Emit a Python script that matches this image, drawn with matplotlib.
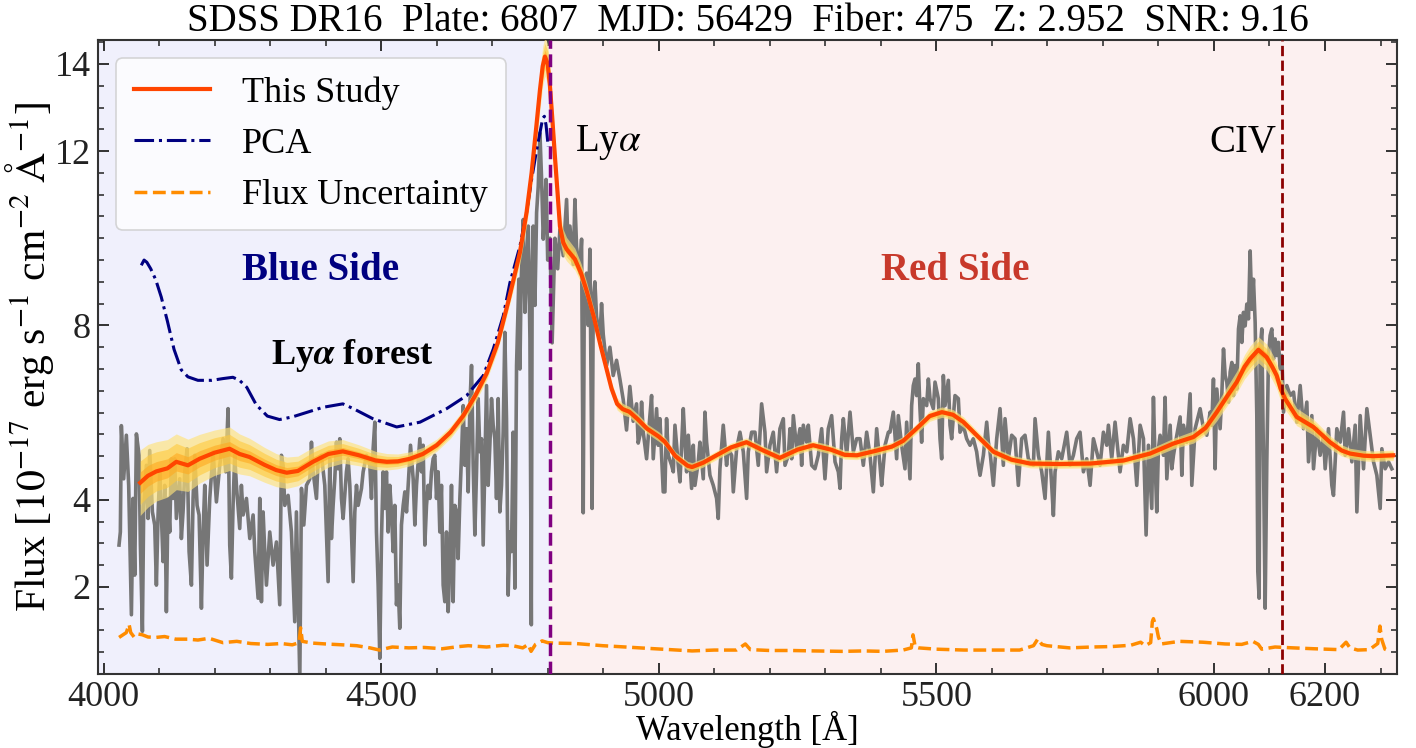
import numpy as np
import matplotlib
matplotlib.use("Agg")
from matplotlib import pyplot as plt
from matplotlib.ticker import MultipleLocator

plt.rcParams['font.family'] = 'serif'
plt.rcParams['font.serif'] = ['Liberation Serif', 'DejaVu Serif']
plt.rcParams['mathtext.fontset'] = 'stix'

TITLE = "SDSS DR16  Plate: 6807  MJD: 56429  Fiber: 475  Z: 2.952  SNR: 9.16"
LYA_LINE = 4804.3
CIV_LINE = 6122.0

# observed spectrum (grey)
spec_wave = [
    4027.9, 4030.3, 4032.1, 4036.3, 4041.1, 4045.3, 4050.2, 4053.2, 4056.2, 4059.2,
    4064.0, 4066.4, 4070.0, 4072.4, 4077.2, 4080.2, 4083.2, 4088.0, 4092.2, 4095.2,
    4098.2, 4101.2, 4104.2, 4107.2, 4110.2, 4113.2, 4116.2, 4119.2, 4122.2, 4125.2,
    4128.2, 4131.2, 4137.2, 4140.2, 4143.2, 4146.3, 4150.5, 4154.1, 4158.3, 4161.3,
    4164.3, 4168.5, 4172.1, 4176.3, 4179.3, 4182.3, 4186.5, 4191.3, 4197.3, 4203.3,
    4209.3, 4215.3, 4220.1, 4224.3, 4227.3, 4230.3, 4233.3, 4236.3, 4239.3, 4245.3,
    4248.3, 4251.4, 4257.4, 4263.4, 4269.4, 4272.4, 4278.4, 4281.4, 4284.4, 4287.4,
    4290.4, 4293.4, 4299.4, 4305.4, 4311.4, 4317.4, 4320.4, 4323.4, 4326.4, 4332.4,
    4338.4, 4344.4, 4347.4, 4353.5, 4356.5, 4360.7, 4365.5, 4371.5, 4374.5, 4377.5,
    4383.5, 4386.5, 4392.5, 4398.5, 4404.5, 4407.5,
    4410.5, 4413.5, 4416.5, 4419.5, 4422.5, 4425.5, 4428.5, 4431.5, 4437.5, 4440.5,
    4443.6, 4446.6, 4449.6, 4452.6, 4455.6, 4458.6, 4464.6, 4467.6, 4473.6, 4479.6,
    4482.6, 4485.6, 4488.6, 4491.6, 4494.6, 4497.6, 4500.6, 4503.6, 4506.6, 4509.6,
    4512.6, 4515.6, 4518.6, 4521.6, 4524.6, 4527.6, 4530.6, 4533.6, 4536.6, 4539.7,
    4542.7, 4545.7, 4548.7, 4552.9, 4557.7, 4560.7, 4563.7, 4566.7, 4569.7, 4572.7,
    4575.7, 4578.7, 4581.7, 4584.7, 4587.7, 4590.7, 4593.7, 4596.7, 4599.7, 4602.7,
    4605.7, 4608.7, 4611.7, 4614.7, 4617.7, 4620.7, 4623.7, 4626.7, 4629.7, 4632.7,
    4635.7, 4638.7, 4641.8, 4644.8, 4647.8, 4650.8, 4653.8, 4656.8, 4659.8, 4662.8,
    4665.8, 4668.8, 4671.8, 4674.8, 4677.8, 4680.8, 4683.8, 4686.8, 4689.8, 4692.8,
    4695.8, 4698.8, 4701.8, 4704.8, 4707.8, 4710.8, 4713.8, 4716.8, 4719.8, 4722.8,
    4725.8, 4728.8, 4731.8, 4734.8, 4737.8, 4740.9, 4743.9,
    4746.9, 4748.0, 4750.0, 4752.0, 4756.0, 4759.0, 4762.0, 4765.0, 4768.0, 4770.5,
    4772.0, 4774.0, 4777.0, 4780.0, 4783.0, 4786.0, 4789.0, 4792.0, 4795.0, 4797.0,
    4800.0, 4804.0, 4808.0, 4813.0, 4818.0, 4822.0, 4828.0, 4834.0, 4837.0, 4840.0,
    4846.0, 4849.0, 4852.0, 4858.0, 4861.0, 4864.0, 4866.0, 4870.0, 4873.0, 4876.0,
    4880.0, 4882.0, 4885.0, 4888.0, 4894.0, 4897.0, 4900.0, 4906.0, 4912.0, 4918.0,
    4924.0, 4930.0, 4936.0, 4942.0, 4948.0, 4954.0, 4960.0, 4963.0,
    4966.1, 4969.1, 4972.1, 4978.1, 4984.1, 4987.1, 4990.1, 4996.1, 4999.1, 5002.1,
    5008.1, 5011.1, 5014.1, 5017.1, 5023.2, 5026.2, 5029.2, 5035.2, 5038.2, 5044.2,
    5047.2, 5050.2, 5053.2, 5059.2, 5062.2, 5065.2, 5071.2, 5074.2, 5080.2, 5083.2,
    5086.2, 5092.2, 5098.2, 5104.2, 5107.2, 5110.2, 5116.2, 5122.2, 5125.3, 5131.3,
    5134.3, 5140.3, 5146.3, 5152.3, 5158.3, 5161.3, 5167.3, 5173.3, 5179.3, 5185.3,
    5191.3, 5194.3, 5200.3, 5206.3, 5212.3, 5218.3, 5224.4, 5227.4, 5233.4, 5236.4,
    5239.4, 5242.4, 5248.4, 5254.4, 5257.4, 5260.4, 5266.4, 5269.4, 5275.4, 5281.4,
    5287.4, 5293.4, 5299.4, 5305.4, 5311.4, 5317.5, 5323.5, 5326.5, 5329.5, 5332.5,
    5338.5, 5344.5, 5350.5, 5356.5, 5362.5, 5368.5, 5374.5, 5380.5, 5386.5, 5392.5,
    5398.5, 5401.5, 5407.6, 5413.6,
    5416.5, 5422.5, 5428.5, 5431.5, 5437.5, 5443.5, 5446.5, 5452.5, 5455.5, 5458.5,
    5461.5, 5464.5, 5467.5, 5470.5, 5473.5, 5476.6, 5482.6, 5485.6, 5488.6, 5494.6,
    5497.6, 5503.6, 5506.6, 5509.6, 5512.6, 5515.6, 5521.6, 5524.6, 5527.6, 5533.6,
    5539.6, 5542.6, 5548.6, 5554.6, 5560.6, 5566.6, 5572.6, 5575.7, 5578.7, 5584.7,
    5590.7, 5593.7, 5596.7, 5602.7, 5608.7, 5614.7, 5620.7, 5623.7, 5629.7, 5635.7,
    5641.7, 5647.7, 5653.7, 5659.7, 5665.7, 5674.8, 5677.8, 5683.8, 5689.8, 5695.8,
    5701.8, 5704.8, 5707.8, 5710.8, 5713.8, 5719.8, 5725.8, 5734.8, 5740.8, 5746.8,
    5752.8, 5758.8, 5764.9, 5770.9, 5776.9, 5782.9, 5788.9, 5794.9, 5800.9, 5806.9,
    5809.9, 5815.9, 5821.9, 5830.9, 5836.9, 5843.0, 5849.0, 5855.0, 5861.0, 5867.0,
    5873.0, 5877.8,
    5882.0, 5888.0, 5891.0, 5894.0, 5897.0, 5900.0, 5903.0, 5909.0, 5912.0, 5915.1,
    5921.1, 5924.1, 5927.1, 5933.1, 5939.1, 5942.1, 5945.1, 5951.1, 5957.1, 5960.1,
    5966.1, 5972.1, 5975.1, 5981.1, 5987.1, 5993.1, 5996.1, 5999.1, 6002.1, 6005.1,
    6011.1, 6014.1, 6017.2, 6020.2, 6023.2, 6026.2, 6029.2, 6032.2, 6035.2, 6038.2,
    6041.2, 6044.2, 6047.2, 6050.2, 6053.2, 6056.2, 6059.2, 6062.2, 6065.2, 6068.2,
    6071.2, 6074.2, 6077.2, 6079.0, 6081.4, 6083.2, 6086.2, 6089.2, 6092.2, 6095.2,
    6098.2, 6101.2, 6104.2, 6107.2, 6110.2, 6113.2, 6116.2, 6119.2, 6122.3, 6125.3,
    6131.3, 6137.3, 6143.3, 6149.3, 6155.3, 6161.3, 6167.3, 6170.3, 6176.3, 6179.3,
    6185.3, 6191.3, 6197.3, 6200.3, 6206.3, 6212.3, 6215.3, 6221.3, 6227.4, 6233.4,
    6236.4, 6242.4, 6248.4, 6254.4, 6257.4, 6263.4, 6269.4, 6275.4, 6281.4, 6287.4,
    6293.4, 6299.4, 6302.4, 6308.4, 6314.4, 6320.4,
]
spec_flux = [
    2.96, 3.26, 5.70, 4.48, 5.48, 4.33, 1.36, 4.03, 2.27, 5.51,
    5.02, 2.96, 0.98, 3.87, 4.79, 3.57, 5.13, 3.72, 3.42, 2.04,
    3.65, 4.64, 3.65, 2.58, 4.33, 1.43, 4.03, 3.26, 4.94, 4.03,
    4.94, 3.57, 4.48, 3.11, 3.72, 4.64, 5.17, 2.81, 2.04, 4.03,
    5.02, 3.87, 3.65, 1.51, 3.26, 4.33, 2.50, 4.03, 5.10, 3.95,
    4.79, 5.40, 4.64, 6.09, 2.96, 2.20, 3.87, 5.02, 4.33, 3.34,
    4.33, 3.65, 4.03, 3.11, 3.65, 2.81, 1.74, 4.03, 1.66, 3.72,
    2.81, 2.04, 3.26, 2.50, 3.03, 1.59, 5.02, 4.79, 3.87, 4.10,
    3.26, 1.20, 3.72, -0.10, 4.26, 3.42, 4.33, 4.48, 5.32, 4.64,
    4.03, 4.94, 5.02, 4.33, 2.12, 4.94,
    3.11, 3.87, 4.48, 5.32, 4.71, 5.40, 4.03, 3.57, 4.64, 4.94,
    4.33, 3.26, 2.12, 3.72, 4.33, 3.87, 4.26, 4.64, 5.02, 4.79,
    4.03, 5.17, 5.78, 3.26, 2.04, 0.36, 3.11, 4.64, 3.80, 4.64,
    3.26, 4.33, 3.72, 2.81, 3.87, 1.59, 2.04, 1.05, 3.42, 3.87,
    4.18, 3.72, 4.33, 5.25, 4.48, 3.42, 4.33, 4.87, 5.40, 4.64,
    5.25, 2.96, 3.87, 4.33, 4.03, 4.64, 4.94, 5.02, 4.03, 4.64,
    3.26, 4.33, 2.04, 1.66, 3.26, 1.43, 2.50, 4.33, 1.66, 3.87,
    3.72, 2.65, 4.03, 5.02, 6.16, 4.79, 5.63, 4.18, 6.16, 7.08,
    4.79, 3.19, 4.64, 6.32, 5.10, 5.40, 2.96, 4.79, 6.62, 4.33,
    5.25, 6.32, 5.71, 5.40, 4.03, 6.32, 3.72, 4.33, 5.55, 7.84,
    5.86, 1.81, 3.26, 2.81, 5.55, 1.97, 7.08,
    8.60, 9.06, 7.00, 8.90, 10.43, 8.30, 9.36, 10.28, 7.69, 1.13,
    9.20, 10.28, 8.46, 10.59, 11.20, 12.42, 11.35, 9.98, 10.74, 11.35,
    9.50, 10.00, 7.60, 10.00, 9.30, 10.20, 9.60, 10.89, 9.67, 10.28,
    9.40, 10.89, 9.80, 9.20, 9.98, 3.70, 9.00, 9.20, 8.00, 9.75,
    3.80, 8.60, 9.00, 8.20, 7.69, 8.50, 7.80, 7.08, 7.50, 6.85,
    7.20, 6.77, 6.30, 5.60, 6.60, 5.80, 6.20, 5.30,
    5.48, 6.24, 5.55, 4.94, 5.93, 6.39, 4.94, 6.09, 5.25, 5.86,
    4.18, 4.18, 5.86, 5.02, 4.79, 4.64, 5.71, 4.79, 4.41, 6.09,
    5.32, 4.64, 5.48, 4.26, 5.25, 4.33, 4.87, 5.32, 4.48, 6.01,
    5.32, 4.56, 4.33, 4.03, 3.57, 4.71, 5.71, 4.79, 5.17, 5.02,
    4.18, 5.17, 5.55, 5.10, 4.03, 5.10, 5.55, 5.55, 4.79, 6.20,
    5.55, 4.64, 5.25, 5.55, 4.64, 5.63, 5.86, 4.79, 5.02, 5.63,
    4.94, 5.93, 5.17, 5.63, 4.79, 5.71, 5.32, 5.71, 4.79, 4.71,
    5.02, 5.63, 4.48, 5.63, 5.93, 4.87, 4.64, 4.26, 5.40, 5.86,
    5.02, 6.01, 5.10, 5.40, 5.40, 4.79, 5.55, 5.02, 4.18, 5.63,
    4.79, 4.33, 5.25, 5.55,
    5.55, 6.01, 4.94, 5.93, 5.25, 4.71, 5.78, 4.48, 6.16, 6.62,
    6.77, 6.39, 7.12, 6.09, 5.32, 6.32, 6.16, 6.77, 6.32, 6.09,
    6.70, 6.32, 5.40, 4.94, 6.85, 6.16, 6.74, 5.71, 5.40, 6.39,
    6.32, 5.55, 5.71, 5.40, 5.25, 5.40, 5.10, 4.79, 4.56, 5.02,
    5.78, 5.32, 5.10, 4.33, 5.40, 6.09, 4.79, 5.86, 4.94, 5.48,
    5.40, 4.33, 5.40, 5.48, 4.94, 4.79, 5.86, 5.02, 4.64, 4.03,
    5.55, 4.94, 4.33, 3.64, 4.64, 5.10, 4.94, 5.55, 4.79, 5.02,
    5.40, 5.55, 4.64, 4.94, 4.33, 5.40, 5.10, 4.79, 5.55, 5.25,
    5.71, 4.94, 5.78, 4.64, 5.25, 5.10, 5.86, 5.40, 4.33, 5.71,
    5.40, 3.19,
    5.25, 3.80, 6.35, 4.87, 3.72, 5.17, 5.48, 5.02, 6.35, 4.48,
    5.71, 4.71, 5.02, 5.48, 5.90, 4.56, 5.71, 5.32, 6.43, 4.33,
    5.63, 5.93, 6.09, 5.63, 5.48, 6.01, 5.71, 6.77, 4.71, 6.54,
    5.63, 6.39, 7.46, 6.85, 6.70, 6.24, 6.93, 7.15, 6.39, 7.08,
    6.54, 7.92, 8.22, 7.61, 8.30, 7.99, 8.49, 8.15, 9.71, 8.37,
    9.06, 8.07, 5.93, 2.35, 1.74, 7.46, 7.92, 4.94, 1.51, 4.87,
    7.31, 7.77, 7.92, 7.23, 7.69, 7.31, 7.61, 7.00, 7.31, 6.01,
    6.62, 6.39, 6.47, 5.78, 6.62, 5.63, 6.24, 4.87, 5.93, 4.71,
    5.63, 5.02, 5.48, 4.71, 5.63, 4.33, 4.10, 5.63, 5.32, 6.01,
    5.02, 5.63, 4.87, 5.71, 3.72, 5.93, 4.71, 6.09, 5.48, 4.87,
    4.56, 3.80, 5.17, 4.71, 4.87, 4.71,
]

# model fit ("This Study") and its uncertainty half-width
fit_wave = [
    4066, 4080, 4095, 4115, 4131, 4152, 4173, 4200, 4227, 4245, 4263, 4290, 4311,
    4330, 4350, 4377, 4405, 4431, 4460, 4490, 4510, 4530, 4552, 4575, 4600, 4625,
    4648, 4670, 4690, 4710, 4730, 4750, 4762, 4771, 4779, 4786, 4791, 4795, 4800,
    4804, 4808, 4813, 4818, 4822, 4828, 4834, 4849, 4860, 4870, 4883, 4895, 4906,
    4915, 4925, 4935, 4947, 4962, 4979, 5000, 5011, 5030, 5052, 5060, 5080, 5104,
    5130, 5158, 5190, 5218, 5250, 5278, 5310, 5335, 5357, 5390, 5420, 5440, 5464,
    5488, 5510, 5530, 5549, 5575, 5603, 5635, 5669, 5720, 5777, 5837, 5885, 5927,
    5963, 5985, 6005, 6025, 6041, 6055, 6065, 6080, 6095, 6105, 6113, 6120, 6128,
    6149, 6179, 6209, 6230, 6245, 6270, 6287, 6323,
]
fit_flux = [
    4.39, 4.55, 4.65, 4.72, 4.87, 4.79, 4.94, 5.08, 5.17, 5.05, 4.98, 4.80, 4.68,
    4.62, 4.66, 4.87, 5.05, 5.11, 5.02, 4.90, 4.87, 4.88, 4.94, 5.05, 5.25, 5.55,
    5.93, 6.40, 6.90, 7.60, 8.60, 9.68, 10.60, 11.50, 12.50, 13.40, 13.95, 14.17, 14.00,
    13.50, 12.80, 11.88, 11.00, 10.28, 9.90, 9.75, 9.52, 9.20, 8.80, 8.20, 7.55, 7.00,
    6.55, 6.20, 6.08, 6.02, 5.85, 5.63, 5.45, 5.33, 5.00, 4.78, 4.75, 4.85, 5.02,
    5.20, 5.32, 5.12, 4.96, 5.15, 5.25, 5.15, 5.03, 5.02, 5.12, 5.22, 5.35, 5.63,
    5.92, 6.01, 5.95, 5.78, 5.45, 5.10, 4.92, 4.83, 4.82, 4.83, 4.90, 5.06, 5.29,
    5.44, 5.65, 6.01, 6.40, 6.70, 7.05, 7.23, 7.44, 7.27, 7.05, 6.85, 6.55, 6.32,
    5.90, 5.67, 5.32, 5.13, 5.06, 5.01, 5.00, 5.02,
]
fit_err = [
    0.75, 0.72, 0.68, 0.66, 0.64, 0.60, 0.56, 0.52, 0.50, 0.46, 0.43, 0.40, 0.38,
    0.36, 0.34, 0.33, 0.30, 0.27, 0.24, 0.21, 0.19, 0.17, 0.16, 0.15, 0.14, 0.14,
    0.14, 0.15, 0.16, 0.17, 0.20, 0.25, 0.30, 0.35, 0.40, 0.45, 0.45, 0.45, 0.45,
    0.45, 0.42, 0.40, 0.36, 0.33, 0.30, 0.27, 0.25, 0.22, 0.20, 0.18, 0.16, 0.15,
    0.14, 0.14, 0.13, 0.12, 0.12, 0.11, 0.11, 0.10, 0.10, 0.10, 0.10, 0.10, 0.10,
    0.10, 0.10, 0.10, 0.10, 0.10, 0.10, 0.10, 0.10, 0.10, 0.10, 0.10, 0.10, 0.11,
    0.12, 0.12, 0.12, 0.12, 0.11, 0.10, 0.10, 0.10, 0.10, 0.10, 0.10, 0.11, 0.12,
    0.14, 0.16, 0.20, 0.22, 0.25, 0.28, 0.30, 0.30, 0.30, 0.30, 0.30, 0.28, 0.25,
    0.20, 0.18, 0.15, 0.13, 0.12, 0.12, 0.12, 0.12,
]

# PCA continuum (blue side only)
pca_wave = [
    4068, 4073, 4078, 4085, 4094, 4104, 4115, 4127, 4140, 4152, 4170, 4195, 4215,
    4233, 4245, 4258, 4275, 4295, 4317, 4340, 4370, 4395, 4431, 4450, 4485, 4528,
    4570, 4618, 4654, 4684, 4702, 4720, 4732, 4750, 4762, 4771, 4779, 4786, 4791,
    4794, 4797, 4801,
]
pca_flux = [
    9.38, 9.50, 9.45, 9.30, 9.05, 8.65, 8.10, 7.45, 6.98, 6.82, 6.74, 6.74, 6.78,
    6.81, 6.74, 6.58, 6.18, 5.92, 5.84, 5.90, 6.02, 6.12, 6.20, 6.09, 5.86, 5.67,
    5.78, 6.09, 6.39, 6.85, 7.46, 8.22, 8.98, 9.82, 10.60, 11.35, 11.95, 12.42, 12.75,
    12.80, 12.60, 12.10,
]

# flux uncertainty
unc_wave = [
    4028, 4035, 4041, 4046, 4049, 4055, 4062, 4070, 4080, 4094, 4110, 4130, 4151,
    4170, 4190, 4215, 4240, 4265, 4296, 4320, 4340, 4352, 4355, 4358, 4376, 4400,
    4430, 4456, 4480, 4497, 4520, 4550, 4577, 4610, 4640, 4657, 4690, 4720, 4737,
    4755, 4765, 4770, 4778, 4790, 4800, 4810, 4850, 4899, 4940, 4979, 5020, 5060,
    5100, 5140, 5156, 5165, 5200, 5238, 5280, 5330, 5370, 5403, 5440, 5455, 5458,
    5462, 5468, 5500, 5550, 5600, 5650, 5675, 5683, 5690, 5699, 5740, 5780, 5815,
    5850, 5868, 5876, 5886, 5889, 5891, 5894, 5897, 5900, 5905, 5938, 5980, 6020,
    6050, 6070, 6080, 6086, 6110, 6143, 6180, 6225, 6238, 6245, 6259, 6280, 6295,
    6299, 6302, 6308, 6312,
]
unc_flux = [
    0.84, 0.90, 0.95, 1.14, 0.95, 0.85, 0.92, 0.90, 0.85, 0.84, 0.86, 0.80, 0.80,
    0.78, 0.82, 0.72, 0.75, 0.70, 0.68, 0.70, 0.67, 0.72, 1.06, 0.75, 0.71, 0.69,
    0.67, 0.65, 0.60, 0.55, 0.62, 0.60, 0.61, 0.58, 0.63, 0.65, 0.62, 0.66, 0.65,
    0.60, 0.68, 0.52, 0.68, 0.76, 0.72, 0.71, 0.70, 0.65, 0.62, 0.59, 0.56, 0.53,
    0.55, 0.55, 0.69, 0.56, 0.54, 0.54, 0.53, 0.52, 0.53, 0.52, 0.55, 0.60, 0.90,
    0.62, 0.60, 0.57, 0.55, 0.55, 0.55, 0.65, 0.81, 0.68, 0.65, 0.60, 0.62, 0.63,
    0.66, 0.73, 0.65, 0.72, 1.20, 1.27, 1.15, 1.04, 0.85, 0.69, 0.75, 0.73, 0.69,
    0.68, 0.75, 0.68, 0.57, 0.62, 0.60, 0.58, 0.56, 0.73, 0.60, 0.55, 0.56, 0.70,
    1.10, 0.80, 0.57, 0.55,
]

fig = plt.figure(figsize=(14.16, 7.48), dpi=100)
ax = fig.add_axes([0.069, 0.0989, 0.9177, 0.8476])

xmin, xmax = 3989.5, 6330
ax.axvspan(xmin, LYA_LINE, color='#F0F0FC', zorder=0)
ax.axvspan(LYA_LINE, xmax, color='#FCF0F0', zorder=0)

ax.plot(spec_wave, spec_flux, color='#767676', lw=2.6, zorder=2)

fw = np.array(fit_wave)
ff = np.array(fit_flux)
fe = np.array(fit_err)
ax.fill_between(fw, ff - fe, ff + fe, color='#FFE37A', alpha=0.65, lw=0, zorder=3)
ax.fill_between(fw, ff - 0.66 * fe, ff + 0.66 * fe, color='#FFC93C', alpha=0.6, lw=0, zorder=3)
ax.fill_between(fw, ff - 0.33 * fe, ff + 0.33 * fe, color='#FFA91F', alpha=0.6, lw=0, zorder=3)
ax.plot(fw, ff, color='#FF4500', lw=3, label='This Study', zorder=5)

ax.plot(pca_wave, pca_flux, color='navy', lw=2.2, ls='-.', label='PCA', zorder=4)
ax.plot(unc_wave, unc_flux, color='darkorange', lw=2.5, ls='--', label='Flux Uncertainty', zorder=4)

ax.axvline(LYA_LINE, color='purple', ls='--', lw=2.5, zorder=6)
ax.axvline(CIV_LINE, color='darkred', ls='--', lw=2, zorder=6)

ax.text(4850, 12.2, r'Ly$\alpha$', fontsize=28, va='center', ha='left')
ax.text(6112, 12.2, 'CIV', fontsize=28, va='center', ha='right')
ax.text(4390, 9.27, 'Blue Side', fontsize=28, color='navy', fontweight='bold', ha='center', va='center')
ax.text(5534, 9.27, 'Red Side', fontsize=28, color='#C8392B', fontweight='bold', ha='center', va='center')
ax.text(4447, 7.3, r'Ly$\mathbfit{\alpha}$ forest', fontsize=26, fontweight='bold', ha='center', va='center')

ax.set_xlim(xmin, xmax)
ax.set_ylim(0, 14.55)
ax.set_xticks([4000, 4500, 5000, 5500, 6000, 6200])
ax.xaxis.set_minor_locator(MultipleLocator(100))
ax.set_yticks([2, 4, 8, 12, 14])
ax.yaxis.set_minor_locator(MultipleLocator(0.5))
ax.tick_params(which='both', direction='in', top=True, right=True, labelsize=26, colors='#222222')
ax.tick_params(which='major', length=8, width=1.3, pad=5)
ax.tick_params(which='minor', length=4, width=1.1)
for s in ax.spines.values():
    s.set_linewidth(1.5)
    s.set_color('#333333')

ax.set_xlabel('Wavelength [Å]', fontsize=25, labelpad=-2)
ax.set_ylabel(r'Flux [$10^{-17}$ erg s$^{-1}$ cm$^{-2}$ $\mathrm{\AA}^{-1}$]', fontsize=30, labelpad=-1)
ax.set_title(TITLE, fontsize=28, pad=3)

leg = ax.legend(loc='upper left', fontsize=26, frameon=True, fancybox=True,
                framealpha=0.8, edgecolor='#CCCCCC', handlelength=2.1, handletextpad=0.9,
                labelspacing=0.5, borderaxespad=0.5, borderpad=0.5)
leg.get_frame().set_linewidth(1.2)

fig.savefig('out.png', dpi=100)
